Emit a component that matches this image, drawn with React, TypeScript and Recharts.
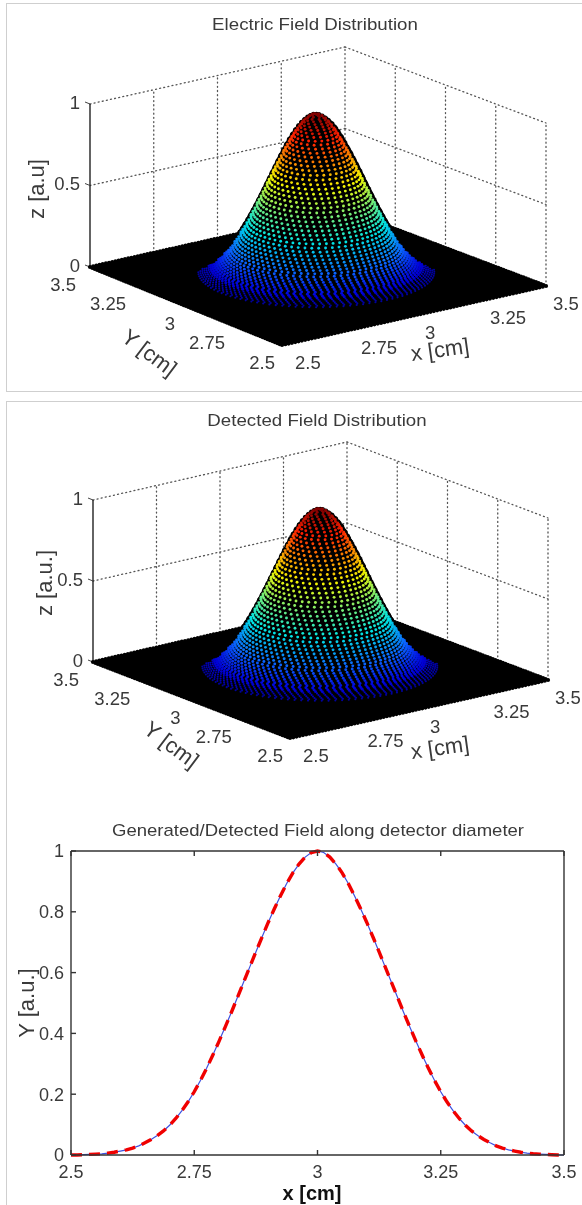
import { ComposedChart, Line, Scatter, XAxis, YAxis } from "recharts"

// field, x = 2.5 .. 3.5 in steps of 0.0125
const crossSection = [
  0, 0, 0.001, 0.002, 0.003, 0.004, 0.006, 0.009, 0.013, 0.017, 0.023, 0.03, 0.04, 0.051, 0.064, 0.079,
  0.098, 0.12, 0.146, 0.175, 0.208, 0.245, 0.285, 0.328, 0.373, 0.42, 0.468, 0.518, 0.568, 0.618, 0.668,
  0.717, 0.765, 0.81, 0.853, 0.893, 0.928, 0.957, 0.98, 0.995, 1,
  0.995, 0.98, 0.957, 0.928, 0.893, 0.853, 0.81, 0.765, 0.717, 0.668, 0.618, 0.568, 0.518, 0.468, 0.42,
  0.373, 0.328, 0.285, 0.245, 0.208, 0.175, 0.146, 0.12, 0.098, 0.079, 0.064, 0.051, 0.04, 0.03, 0.023,
  0.017, 0.013, 0.009, 0.006, 0.004, 0.003, 0.002, 0.001, 0, 0,
]
const xStart = 2.5
const xStep = 0.0125

// height of the hill against distance from its centre, steps of 0.00625 cm
const radialField = [
  1, 0.999, 0.995, 0.99, 0.98, 0.97, 0.957, 0.943, 0.928, 0.911, 0.893, 0.873, 0.853, 0.832, 0.81, 0.788,
  0.765, 0.741, 0.717, 0.693, 0.668, 0.643, 0.618, 0.593, 0.568, 0.543, 0.518, 0.493, 0.468, 0.444, 0.42,
  0.396, 0.373, 0.35, 0.328, 0.306, 0.285, 0.265, 0.245, 0.226, 0.208, 0.191, 0.175, 0.16, 0.146, 0.133,
  0.12, 0.109, 0.098, 0.088, 0.079, 0.071, 0.064, 0.057, 0.051, 0.045, 0.04, 0.035, 0.03,
]
const radialStep = 0.00625

const cmTicks = [2.5, 2.75, 3, 3.25, 3.5]
const zTicks = [0, 0.5, 1]
const fieldTicks = [0, 0.2, 0.4, 0.6, 0.8, 1]
const yTickDx = [-14, -12, -11, -9, -7]
const xTickDx = [13, 13, 11, 10, 7]

// jet colour map, low end darkened towards the floor
const jetStops = ["#000070", "#0000d8", "#0a60ff", "#00e4e4", "#f4f400", "#ff2000", "#800000"]
const jetAt = [0, 0.07, 0.17, 0.33, 0.62, 0.87, 1]

const INK = "#3a3a3a"
const FONT = "'Liberation Sans', Arial, sans-serif"
const PANEL_H = 395

type Pt = { x: number; y: number }
interface Panel {
  top: number
  left: Pt
  front: Pt
  right: Pt
  back: Pt
  height: number
  title: string
  titleAt: Pt
  zLabel: string
  zLabelAt: Pt
  yLabelAt: Pt
  xLabelAt: Pt
}

const panelA: Panel = {
  top: 0,
  left: { x: 90, y: 267 },
  front: { x: 282, y: 345 },
  right: { x: 546, y: 286 },
  back: { x: 345, y: 210 },
  height: 163,
  title: "Electric Field Distribution",
  titleAt: { x: 315, y: 24 },
  zLabel: "z [a.u]",
  zLabelAt: { x: 37, y: 189 },
  yLabelAt: { x: 149, y: 353 },
  xLabelAt: { x: 440, y: 350 },
}

const panelB: Panel = {
  top: 395,
  left: { x: 93, y: 267 },
  front: { x: 290, y: 343 },
  right: { x: 548, y: 285 },
  back: { x: 347, y: 209 },
  height: 162,
  title: "Detected Field Distribution",
  titleAt: { x: 317, y: 420 },
  zLabel: "z [a.u.]",
  zLabelAt: { x: 45, y: 583 },
  yLabelAt: { x: 171, y: 745 },
  xLabelAt: { x: 440, y: 748 },
}

function project(p: Panel, x: number, y: number, z: number) {
  const u = x - 2.5
  const v = y - 2.5
  const blend = (k: "x" | "y") =>
    p.front[k] * (1 - u) * (1 - v) + p.right[k] * u * (1 - v) + p.back[k] * u * v + p.left[k] * (1 - u) * v
  return { px: blend("x"), py: blend("y") - z * p.height }
}

function hexToRgb(h: string) {
  return [1, 3, 5].map((i) => parseInt(h.slice(i, i + 2), 16))
}

function jet(z: number) {
  let i = 0
  while (i < jetAt.length - 2 && z > jetAt[i + 1]) i++
  const t = (z - jetAt[i]) / (jetAt[i + 1] - jetAt[i])
  const a = hexToRgb(jetStops[i])
  const b = hexToRgb(jetStops[i + 1])
  const c = a.map((n, k) => Math.round(n + (b[k] - n) * t))
  return `rgb(${c[0]},${c[1]},${c[2]})`
}

// black part of the mesh: flat floor, then the raised nodes back to front
function buildUnderlay(p: Panel) {
  const floor = []
  const raised = []
  const n = crossSection.length
  for (let i = n - 1; i >= 0; i--) {
    for (let j = n - 1; j >= 0; j--) {
      const x = xStart + i * xStep
      const y = xStart + j * xStep
      const z = crossSection[i] * crossSection[j]
      floor.push({ ...project(p, x, y, 0), r: 2.1 })
      if (z < 0.001) continue
      const nx = crossSection[Math.min(i + 1, n - 1)] * crossSection[j]
      const ny = crossSection[i] * crossSection[Math.min(j + 1, n - 1)]
      const step = Math.max(Math.abs(nx - z), Math.abs(ny - z)) * p.height
      raised.push({ ...project(p, x, y, z), r: Math.max(2.1, 0.62 * step) })
    }
  }
  return [...floor, ...raised]
}

// coloured dots sit on rings, alternate rings staggered, viewer side only
function buildColorDots(p: Panel) {
  const dots = []
  for (let k = radialField.length - 1; k >= 0; k--) {
    const r = k * radialStep
    const z = radialField[k]
    const count = Math.max(1, Math.round((2 * Math.PI * r) / 0.021))
    for (let m = 0; m < count; m++) {
      const a = ((m + (k % 2) * 0.5) / count) * 2 * Math.PI
      const dx = r * Math.cos(a)
      const dy = r * Math.sin(a)
      if (0.73 * dx + dy > 0.03) continue
      dots.push({ ...project(p, 3 + dx, 3 + dy, z), color: jet(z), r: z < 0.06 ? 1.05 : 1.45 })
    }
  }
  return dots
}

const UnderDot = (props: any) => <circle cx={props.cx} cy={props.cy} r={props.payload.r} fill="#000" />
const ColorDot = (props: any) => <circle cx={props.cx} cy={props.cy} r={props.payload.r} fill={props.payload.color} />
const NoDot = () => <g />

const AxisText = (props: any) => {
  const d = props.payload
  return (
    <g>
      {d.tick && <line x1={props.cx - 5} y1={props.cy - 2} x2={props.cx} y2={props.cy} stroke="#444" strokeWidth={1} />}
      <text
        x={props.cx + d.dx}
        y={props.cy + d.dy}
        textAnchor={d.anchor}
        dominantBaseline="central"
        fontSize={18.5}
        fontFamily={FONT}
        fill={INK}
      >
        {d.label}
      </text>
    </g>
  )
}

function Caption({ at, text, size, rotate = 0, bold = false, stretch = 1 }: { at: Pt; text: string; size: number; rotate?: number; bold?: boolean; stretch?: number }) {
  return (
    <div
      style={{
        position: "absolute",
        left: at.x,
        top: at.y,
        transform: `translate(-50%, -50%) rotate(${rotate}deg) scaleX(${stretch})`,
        fontFamily: FONT,
        fontSize: size,
        fontWeight: bold ? 700 : 400,
        color: bold ? "#111" : INK,
        whiteSpace: "nowrap",
        lineHeight: 1,
      }}
    >
      {text}
    </div>
  )
}

const wallLine = { stroke: "#555", strokeWidth: 1.3, strokeDasharray: "1 3.2", strokeLinecap: "round" as const, dot: false, activeDot: false, isAnimationActive: false }

function Surface3D({ panel }: { panel: Panel }) {
  const under = buildUnderlay(panel)
  const over = buildColorDots(panel)
  const segs: { px: number; py: number }[][] = []
  // walls at y = 3.5 and x = 3.5
  cmTicks.slice(1).forEach((x) => segs.push([project(panel, x, 3.5, 0), project(panel, x, 3.5, 1)]))
  cmTicks.slice(0, -1).forEach((y) => segs.push([project(panel, 3.5, y, 0), project(panel, 3.5, y, 1)]))
  ;[0.5, 1].forEach((z) => {
    segs.push([project(panel, 2.5, 3.5, z), project(panel, 3.5, 3.5, z)])
    segs.push([project(panel, 3.5, 3.5, z), project(panel, 3.5, 2.5, z)])
  })
  const zAxis = zTicks.map((z) => project(panel, 2.5, 3.5, z))
  const labels = [
    ...zTicks.map((z) => ({ ...project(panel, 2.5, 3.5, z), label: String(z), dx: -10, dy: -2, anchor: "end", tick: true })),
    ...cmTicks.map((y, i) => ({ ...project(panel, 2.5, y, 0), label: String(y), dx: yTickDx[4 - i], dy: 17, anchor: "end", tick: false })),
    ...cmTicks.map((x, i) => ({ ...project(panel, x, 2.5, 0), label: String(x), dx: xTickDx[i], dy: 17, anchor: "start", tick: false })),
  ]
  return (
    <ComposedChart width={582} height={PANEL_H} margin={{ top: 0, right: 0, bottom: 0, left: 0 }} style={{ position: "absolute", left: 0, top: panel.top }}>
      <XAxis type="number" dataKey="px" domain={[0, 582]} hide />
      <YAxis type="number" dataKey="py" domain={[0, PANEL_H]} reversed hide />
      {segs.map((s, i) => (
        <Line key={i} data={s} dataKey="py" {...wallLine} />
      ))}
      <Scatter data={zAxis} shape={NoDot} line={{ stroke: "#222", strokeWidth: 1.4 }} isAnimationActive={false} />
      <Scatter data={labels} shape={AxisText} isAnimationActive={false} />
      <Scatter data={under} shape={UnderDot} isAnimationActive={false} />
      <Scatter data={over} shape={ColorDot} isAnimationActive={false} />
    </ComposedChart>
  )
}

const profileRows = crossSection.map((v, i) => ({ x: xStart + i * xStep, generated: v, detected: v }))
const noTick = () => <g />

function ProfileChart() {
  const axisStyle = { stroke: "#333", strokeWidth: 1.4 }
  const tickText = { fontSize: 18, fontFamily: FONT, fill: INK }
  return (
    <ComposedChart
      width={582}
      height={405}
      data={profileRows}
      margin={{ top: 50, right: 17, bottom: 49, left: 70 }}
      style={{ position: "absolute", left: 0, top: 800 }}
    >
      <XAxis type="number" dataKey="x" domain={[2.5, 3.5]} ticks={cmTicks} interval={0} height={1} tickSize={-5} tickMargin={15} axisLine={axisStyle} tickLine={axisStyle} tick={tickText} />
      <XAxis xAxisId="top" orientation="top" type="number" dataKey="x" domain={[2.5, 3.5]} ticks={cmTicks} interval={0} height={1} tickSize={-5} axisLine={axisStyle} tickLine={axisStyle} tick={noTick} />
      <YAxis type="number" domain={[0, 1]} ticks={fieldTicks} interval={0} width={1} tickSize={-5} tickMargin={12} axisLine={axisStyle} tickLine={axisStyle} tick={tickText} />
      <YAxis yAxisId="right" orientation="right" type="number" domain={[0, 1]} ticks={fieldTicks} interval={0} width={1} tickSize={-5} axisLine={axisStyle} tickLine={axisStyle} tick={noTick} />
      <Line dataKey="generated" stroke="#3c50e0" strokeWidth={1.2} dot={false} isAnimationActive={false} />
      <Line dataKey="detected" stroke="#f00000" strokeWidth={3.4} strokeDasharray="11 7" dot={false} isAnimationActive={false} />
    </ComposedChart>
  )
}

export default function App() {
  return (
    <div style={{ position: "absolute", left: 0, top: 0, width: 582, height: 1205, background: "#fff", overflow: "hidden", filter: "blur(0.5px)" }}>
      <div style={{ position: "absolute", left: 6, top: 3, width: 580, height: 387, border: "1px solid #cfcfcf" }} />
      <div style={{ position: "absolute", left: 6, top: 401, width: 580, height: 810, border: "1px solid #cfcfcf" }} />
      <Surface3D panel={panelA} />
      <Surface3D panel={panelB} />
      <ProfileChart />
      {[panelA, panelB].map((p) => (
        <div key={p.title}>
          <Caption at={p.titleAt} text={p.title} size={17} stretch={1.1} />
          <Caption at={p.zLabelAt} text={p.zLabel} size={22} rotate={-90} />
          <Caption at={p.yLabelAt} text="Y [cm]" size={22} rotate={37} />
          <Caption at={p.xLabelAt} text="x [cm]" size={22} rotate={-8} />
        </div>
      ))}
      <Caption at={{ x: 318, y: 830 }} text="Generated/Detected Field along detector diameter" size={17} stretch={1.09} />
      <Caption at={{ x: 27, y: 1003 }} text="Y [a.u.]" size={22} rotate={-90} />
      <Caption at={{ x: 312, y: 1193 }} text="x [cm]" size={20} bold />
    </div>
  )
}
